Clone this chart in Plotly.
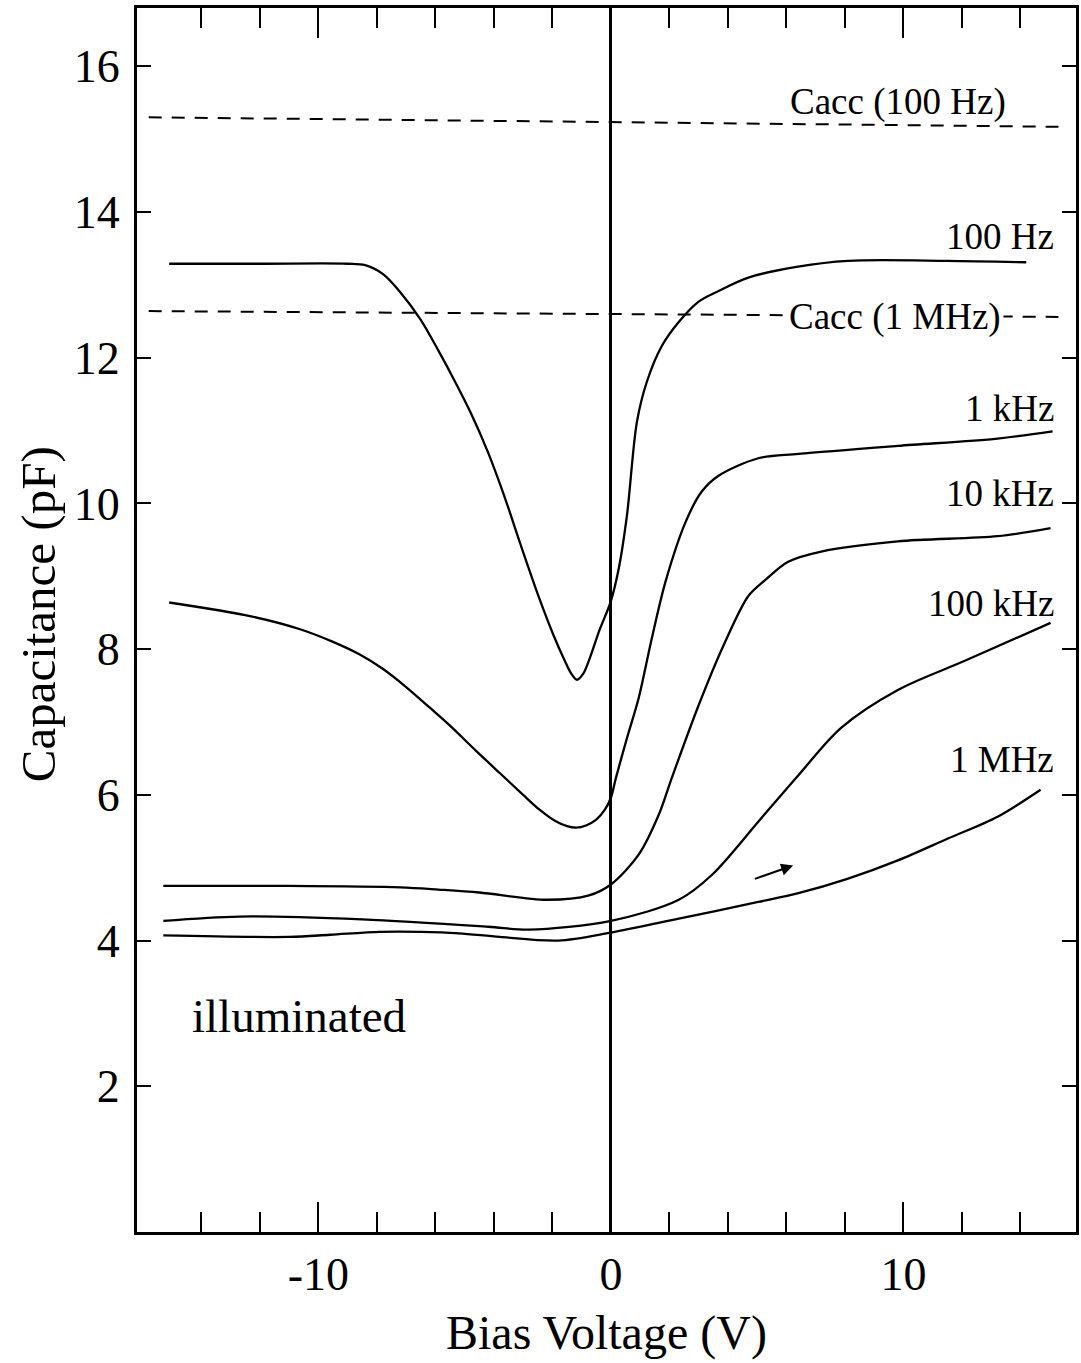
import plotly.graph_objects as go

# ---------------- data ----------------
v_100hz = [-15.1, -12.0, -9.0, -8.4, -7.8, -7.2, -6.5, -5.9, -5.3, -4.8, -4.2, -3.6, -3.1, -2.45,
           -1.95, -1.6, -1.35, -1.16, -0.95, -0.7, -0.4, 0.0, 0.27, 0.55, 0.89, 1.23, 1.74, 2.32,
           3.0, 3.7, 4.7, 6.4, 8.1, 11.5, 14.2]
c_100hz = [13.29, 13.29, 13.29, 13.27, 13.15, 12.9, 12.52, 12.1, 11.65, 11.25, 10.7, 10.05, 9.45, 8.7,
           8.18, 7.86, 7.66, 7.58, 7.66, 7.9, 8.25, 8.66, 9.11, 9.84, 11.12, 11.67, 12.16, 12.49,
           12.77, 12.92, 13.1, 13.25, 13.33, 13.33, 13.31]

v_1khz = [-15.1, -12.3, -10.6, -9.5, -8.6, -7.8, -7.0, -6.2, -5.5, -4.6, -3.8, -3.0, -2.45, -1.9,
          -1.5, -1.19, -0.85, -0.5, -0.2, 0.0, 0.17, 0.55, 0.95, 1.4, 1.87, 2.56, 3.1, 3.68, 5.04,
          6.41, 9.81, 13.22, 15.1]
c_1khz = [8.64, 8.45, 8.27, 8.1, 7.93, 7.73, 7.48, 7.2, 6.95, 6.6, 6.3, 6.0, 5.8, 5.64,
          5.57, 5.55, 5.58, 5.66, 5.8, 5.96, 6.23, 6.78, 7.33, 8.15, 8.93, 9.75, 10.16, 10.38, 10.62,
          10.68, 10.79, 10.89, 10.99]

v_10khz = [-15.3, -11.0, -7.2, -5.9, -4.5, -2.2, -0.75, 0.0, 0.95, 1.64, 2.08, 3.0, 3.85, 4.7,
           5.28, 6.06, 7.19, 9.81, 13.22, 15.03]
c_10khz = [4.75, 4.75, 4.73, 4.7, 4.66, 4.56, 4.62, 4.77, 5.18, 5.73, 6.23, 7.23, 8.05, 8.73,
           8.95, 9.2, 9.34, 9.48, 9.55, 9.66]

v_100khz = [-15.3, -12.7, -8.5, -4.2, -2.8, 0.0, 2.32, 3.45, 5.14, 6.41, 7.87, 9.81, 12.1, 15.03]
c_100khz = [4.27, 4.33, 4.29, 4.19, 4.15, 4.27, 4.56, 4.9, 5.68, 6.27, 6.92, 7.44, 7.84, 8.36]

v_1mhz = [-15.3, -11.0, -9.6, -7.9, -6.5, -5.2, -3.8, -1.8, 0.0, 2.32, 5.04, 6.41, 8.11, 9.81,
          11.52, 13.22, 14.69]
c_1mhz = [4.07, 4.05, 4.08, 4.12, 4.12, 4.1, 4.05, 4.0, 4.11, 4.3, 4.53, 4.65, 4.85, 5.1,
          5.4, 5.7, 6.07]

v_cacc_100hz = [-15.8, 15.3]
c_cacc_100hz = [15.3, 15.17]
v_cacc_1mhz = [-15.8, 15.3]
c_cacc_1mhz = [12.64, 12.56]

curve_labels = ["100 Hz", "1 kHz", "10 kHz", "100 kHz", "1 MHz"]
label_v = [15.2, 15.2, 15.2, 15.2, 15.2]
label_c = [13.66, 11.3, 10.14, 8.63, 6.48]

x_ticks = [-10, 0, 10]
x_minor_ticks = [-14, -12, -8, -6, -4, -2, 2, 4, 6, 8, 12, 14]
y_ticks = [2, 4, 6, 8, 10, 12, 14, 16]

# ---------------- figure ----------------
FONT = "Liberation Serif"
fig = go.Figure()

solid = dict(color="black", width=2.3)
for v, c in [(v_100hz, c_100hz), (v_1khz, c_1khz), (v_10khz, c_10khz),
             (v_100khz, c_100khz), (v_1mhz, c_1mhz)]:
    fig.add_trace(go.Scatter(x=v, y=c, mode="lines", line=dict(shape="spline", smoothing=0.9, **solid),
                             showlegend=False, hoverinfo="skip"))

for v, c in [(v_cacc_100hz, c_cacc_100hz), (v_cacc_1mhz, c_cacc_1mhz)]:
    fig.add_trace(go.Scatter(x=v, y=c, mode="lines",
                             line=dict(color="black", width=2, dash="13px,10px"),
                             showlegend=False, hoverinfo="skip"))

ann = []
for t, xv, yv in zip(curve_labels, label_v, label_c):
    ann.append(dict(x=xv, y=yv, xref="x", yref="y", text=t, showarrow=False,
                    xanchor="right", yanchor="middle", font=dict(family=FONT, size=37, color="black")))
ann.append(dict(x=9.81, y=15.51, xref="x", yref="y", text="Cacc (100 Hz)", showarrow=False,
                xanchor="center", yanchor="middle", font=dict(family=FONT, size=37, color="black")))
ann.append(dict(x=6.0, y=12.56, xref="x", yref="y", text="Cacc (1 MHz)", showarrow=False,
                xanchor="left", yanchor="middle", bgcolor="white", borderpad=2,
                font=dict(family=FONT, size=37, color="black")))
ann.append(dict(x=-14.4, y=2.97, xref="x", yref="y", text="illuminated", showarrow=False,
                xanchor="left", yanchor="middle", font=dict(family=FONT, size=47, color="black")))
# arrow
ann.append(dict(x=6.23, y=5.03, ax=4.87, ay=4.84, xref="x", yref="y", axref="x", ayref="y",
                text="", showarrow=True, arrowhead=2, arrowsize=1.2, arrowwidth=2, arrowcolor="black"))
# axis titles
ann.append(dict(x=0.5, y=-0.0825, xref="paper", yref="paper", text="Bias Voltage (V)", showarrow=False,
                xanchor="center", yanchor="middle", font=dict(family=FONT, size=48, color="black")))
ann.append(dict(x=-0.105, y=0.505, xref="paper", yref="paper", text="Capacitance (pF)", showarrow=False,
                textangle=-90, xanchor="center", yanchor="middle", font=dict(family=FONT, size=49, color="black")))

fig.update_layout(
    width=1081, height=1363,
    margin=dict(l=137, r=2, t=8, b=131),
    paper_bgcolor="white", plot_bgcolor="white",
    annotations=ann,
    showlegend=False,
)
fig.update_xaxes(
    range=[-16.2, 15.9], tickvals=x_ticks, ticktext=[str(t) for t in x_ticks],
    ticks="inside", ticklen=30, tickwidth=2, tickcolor="black",
    minor=dict(tickvals=x_minor_ticks, ticks="inside", ticklen=20, tickwidth=2, tickcolor="black"),
    showline=True, linewidth=3, linecolor="black", mirror="ticks",
    showgrid=False, zeroline=True, zerolinewidth=3, zerolinecolor="black",
    tickfont=dict(family=FONT, size=46, color="black"),
)
fig.update_yaxes(
    range=[0, 16.8], tickvals=y_ticks, ticktext=[str(t) for t in y_ticks],
    ticks="inside", ticklen=14, tickwidth=2, tickcolor="black",
    showline=True, linewidth=3, linecolor="black", mirror="ticks",
    showgrid=False, zeroline=False, ticklabelstandoff=5,
    tickfont=dict(family=FONT, size=46, color="black"),
)

fig.write_html("out.html")
